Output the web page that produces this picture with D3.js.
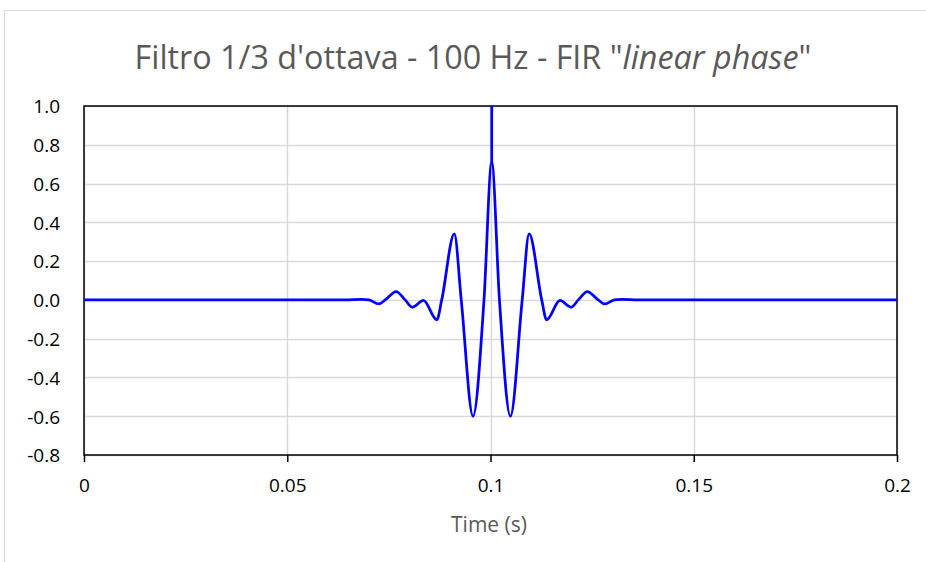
<!DOCTYPE html>
<html>
<head>
<meta charset="utf-8">
<script src="https://cdn.jsdelivr.net/npm/d3@7"></script>
<style>
  html, body { margin: 0; padding: 0; background: #fff; }
  svg { display: block; font-family: "Open Sans", "Noto Sans", sans-serif; }
</style>
</head>
<body>
<svg id="chart" width="926" height="562"></svg>
<script>
// --- DATA ---
const timeS = [0, 0.060, 0.0643, 0.0683, 0.0701, 0.0725, 0.0741, 0.0768, 0.0790, 0.0808,
               0.0835, 0.0868, 0.0880, 0.0911, 0.0928, 0.0957, 0.0984, 0.1003,
               0.1022, 0.1049, 0.1078, 0.1095, 0.1126, 0.1138, 0.1171, 0.1198,
               0.1216, 0.1238, 0.1265, 0.1281, 0.1305, 0.1323, 0.1363, 0.2];
const amplitude = [0, 0, 0, 0.003, 0, -0.021, 0, 0.043, 0, -0.038,
                   -0.003, -0.103, 0, 0.341, 0, -0.600, 0, 0.710,
                   0, -0.600, 0, 0.341, 0, -0.103, -0.003, -0.038,
                   0, 0.043, 0, -0.021, 0, 0.003, 0, 0];
// the vertical spike at the centre sample
const spikeTime = [0.1003, 0.1003];
const spikeAmp = [0.710, 1.0];

const xTicks = [0, 0.05, 0.1, 0.15, 0.2];
const yTicks = [-0.8, -0.6, -0.4, -0.2, 0, 0.2, 0.4, 0.6, 0.8, 1.0];
const titleText = ["Filtro 1/3 d'ottava - 100 Hz - FIR \"", "linear phase", "\""];
const xLabel = "Time (s)";

// --- LAYOUT ---
const svg = d3.select("#chart");
const plot = { left: 84, right: 897, top: 106, bottom: 455 };

const x = d3.scaleLinear().domain([0, 0.2]).range([plot.left, plot.right]);
const y = d3.scaleLinear().domain([-0.8, 1.0]).range([plot.bottom, plot.top]);
const hyphen = f => d => f(d).replace("\u2212", "-");

// outer chart border
svg.append("rect")
    .attr("x", 4.5).attr("y", 10.5).attr("width", 930).attr("height", 560)
    .attr("fill", "none").attr("stroke", "#d9d9d9");

// grid
svg.append("g").selectAll("line").data(yTicks).join("line")
    .attr("x1", plot.left).attr("x2", plot.right)
    .attr("y1", d => Math.round(y(d)) + 0.5).attr("y2", d => Math.round(y(d)) + 0.5)
    .attr("stroke", "#d9d9d9").attr("stroke-width", 1.5);
svg.append("g").selectAll("line").data(xTicks).join("line")
    .attr("y1", plot.top).attr("y2", plot.bottom)
    .attr("x1", d => Math.round(x(d)) + 0.5).attr("x2", d => Math.round(x(d)) + 0.5)
    .attr("stroke", "#d9d9d9").attr("stroke-width", 1.5);

// axes
const xAxis = svg.append("g")
    .attr("transform", `translate(0,${plot.bottom})`)
    .call(d3.axisBottom(x).tickValues(xTicks).tickFormat(d3.format("")).tickSize(7).tickPadding(17));
const yAxis = svg.append("g")
    .attr("transform", `translate(${plot.left},0)`)
    .call(d3.axisLeft(y).tickValues(yTicks).tickFormat(hyphen(d3.format(".1f"))).tickSize(0).tickPadding(24));
[xAxis, yAxis].forEach(a => {
    a.select(".domain").remove();
    a.selectAll("text").attr("font-size", 19).attr("fill", "#000")
        .attr("font-family", "'Open Sans', sans-serif");
    a.selectAll("line").attr("stroke", "#000").attr("stroke-width", 1.5);
});
yAxis.selectAll("text").attr("dy", "0.36em");

// plot frame
svg.append("rect")
    .attr("x", plot.left).attr("y", plot.top)
    .attr("width", plot.right - plot.left).attr("height", plot.bottom - plot.top)
    .attr("fill", "none").attr("stroke", "#000").attr("stroke-width", 1.5);

// series
svg.append("clipPath").attr("id", "clip").append("rect")
    .attr("x", plot.left).attr("y", plot.top - 1)
    .attr("width", plot.right - plot.left).attr("height", plot.bottom - plot.top + 2);

const line = d3.line().x(d => x(d[0])).y(d => y(d[1])).curve(d3.curveMonotoneX);
svg.append("path")
    .datum(d3.zip(timeS, amplitude))
    .attr("clip-path", "url(#clip)")
    .attr("fill", "none").attr("stroke", "#0000ff").attr("stroke-width", 2.75)
    .attr("stroke-linejoin", "round")
    .attr("d", line);
svg.append("path")
    .datum(d3.zip(spikeTime, spikeAmp))
    .attr("fill", "none").attr("stroke", "#0000ff").attr("stroke-width", 2.75)
    .attr("d", d3.line().x(d => x(d[0])).y(d => y(d[1])));

// title
const title = svg.append("text")
    .attr("x", 473).attr("y", 69)
    .attr("text-anchor", "middle")
    .attr("font-size", 27).attr("fill", "#595959");
title.selectAll("tspan").data(titleText).join("tspan")
    .attr("font-style", (d, i) => i === 1 ? "italic" : "normal")
    .text(d => d);
const tw = title.node().getComputedTextLength();
title.attr("font-size", 27 * 677 / tw);

// x axis title
svg.append("text")
    .attr("x", 489).attr("y", 532)
    .attr("text-anchor", "middle")
    .attr("font-size", 21).attr("fill", "#595959")
    .text(xLabel);
</script>
</body>
</html>
